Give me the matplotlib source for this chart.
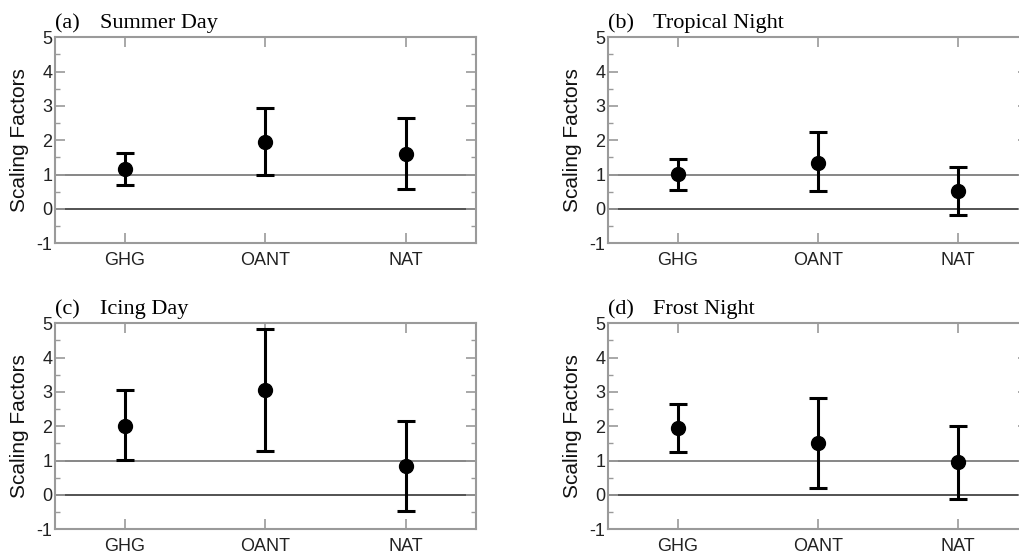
import matplotlib
matplotlib.use("Agg")
import matplotlib.pyplot as plt
from matplotlib.ticker import MultipleLocator

plt.rcParams["axes.unicode_minus"] = False

categories = ["GHG", "OANT", "NAT"]
panel_letters = ["(a)", "(b)", "(c)", "(d)"]
panel_titles = ["Summer Day", "Tropical Night", "Icing Day", "Frost Night"]

summer_best = [1.15, 1.96, 1.59]
summer_low = [0.70, 0.99, 0.57]
summer_high = [1.64, 2.95, 2.64]

tropical_best = [1.02, 1.35, 0.53]
tropical_low = [0.55, 0.51, -0.18]
tropical_high = [1.45, 2.24, 1.23]

icing_best = [2.00, 3.05, 0.84]
icing_low = [1.01, 1.28, -0.46]
icing_high = [3.05, 4.84, 2.15]

frost_best = [1.95, 1.51, 0.95]
frost_low = [1.24, 0.20, -0.11]
frost_high = [2.64, 2.83, 2.02]

best = [summer_best, tropical_best, icing_best, frost_best]
low = [summer_low, tropical_low, icing_low, frost_low]
high = [summer_high, tropical_high, icing_high, frost_high]

W, H = 1019, 553
fig = plt.figure(figsize=(W / 100, H / 100), dpi=100)

# axes rectangles in pixels: left, top, right, bottom
rects = [(55, 37.3, 475.7, 243.3), (608, 37.3, 1028, 243.3),
         (55, 323.3, 475.7, 529.3), (608, 323.3, 1028, 529.3)]

sans = ["Liberation Sans", "DejaVu Sans"]
serif = ["Liberation Serif", "DejaVu Serif"]
spine_c = "#9a9a9a"
for i, (l, t, r, b) in enumerate(rects):
    ax = fig.add_axes([l / W, (H - b) / H, (r - l) / W, (b - t) / H])
    x = list(range(1, len(categories) + 1))
    yerr_lo = [bv - lv for bv, lv in zip(best[i], low[i])]
    yerr_hi = [hv - bv for bv, hv in zip(best[i], high[i])]
    ax.axhline(0, color="#444444", lw=1.3, zorder=1)
    ax.axhline(1, color="#666666", lw=1.1, zorder=1)
    ax.errorbar(x, best[i], yerr=[yerr_lo, yerr_hi], fmt="o", color="black",
                ecolor="black", elinewidth=2.2, capsize=6.5, capthick=2.2,
                markersize=10, zorder=3)
    ax.set_xlim(0.5, 3.5)
    ax.set_ylim(-1, 5)
    ax.set_xticks(x)
    ax.set_xticklabels(categories)
    ax.yaxis.set_major_locator(MultipleLocator(1))
    ax.yaxis.set_minor_locator(MultipleLocator(0.5))
    for s in ax.spines.values():
        s.set_color(spine_c)
        s.set_linewidth(1.5)
    ax.tick_params(axis="both", which="major", direction="in", length=7,
                   width=1.2, color=spine_c, labelsize=13, labelcolor="#222222",
                   top=True, right=True)
    ax.tick_params(axis="y", which="minor", direction="in", length=3.5,
                   width=1.0, color=spine_c, right=True, left=True)
    ax.tick_params(axis="x", which="major", pad=6)
    ax.tick_params(axis="y", which="major", pad=2)
    for lab in ax.get_xticklabels() + ax.get_yticklabels():
        lab.set_family(sans)
    ax.set_ylabel("Scaling Factors", fontsize=15, family=sans,
                  color="#111111", labelpad=5)
    fig.text(l / W, (H - (t - 9)) / H, panel_letters[i], fontsize=16,
             family=serif, va="baseline", ha="left")
    fig.text((l + 45) / W, (H - (t - 9)) / H, panel_titles[i], fontsize=16,
             family=serif, va="baseline", ha="left")

fig.savefig("out.png", dpi=100)
